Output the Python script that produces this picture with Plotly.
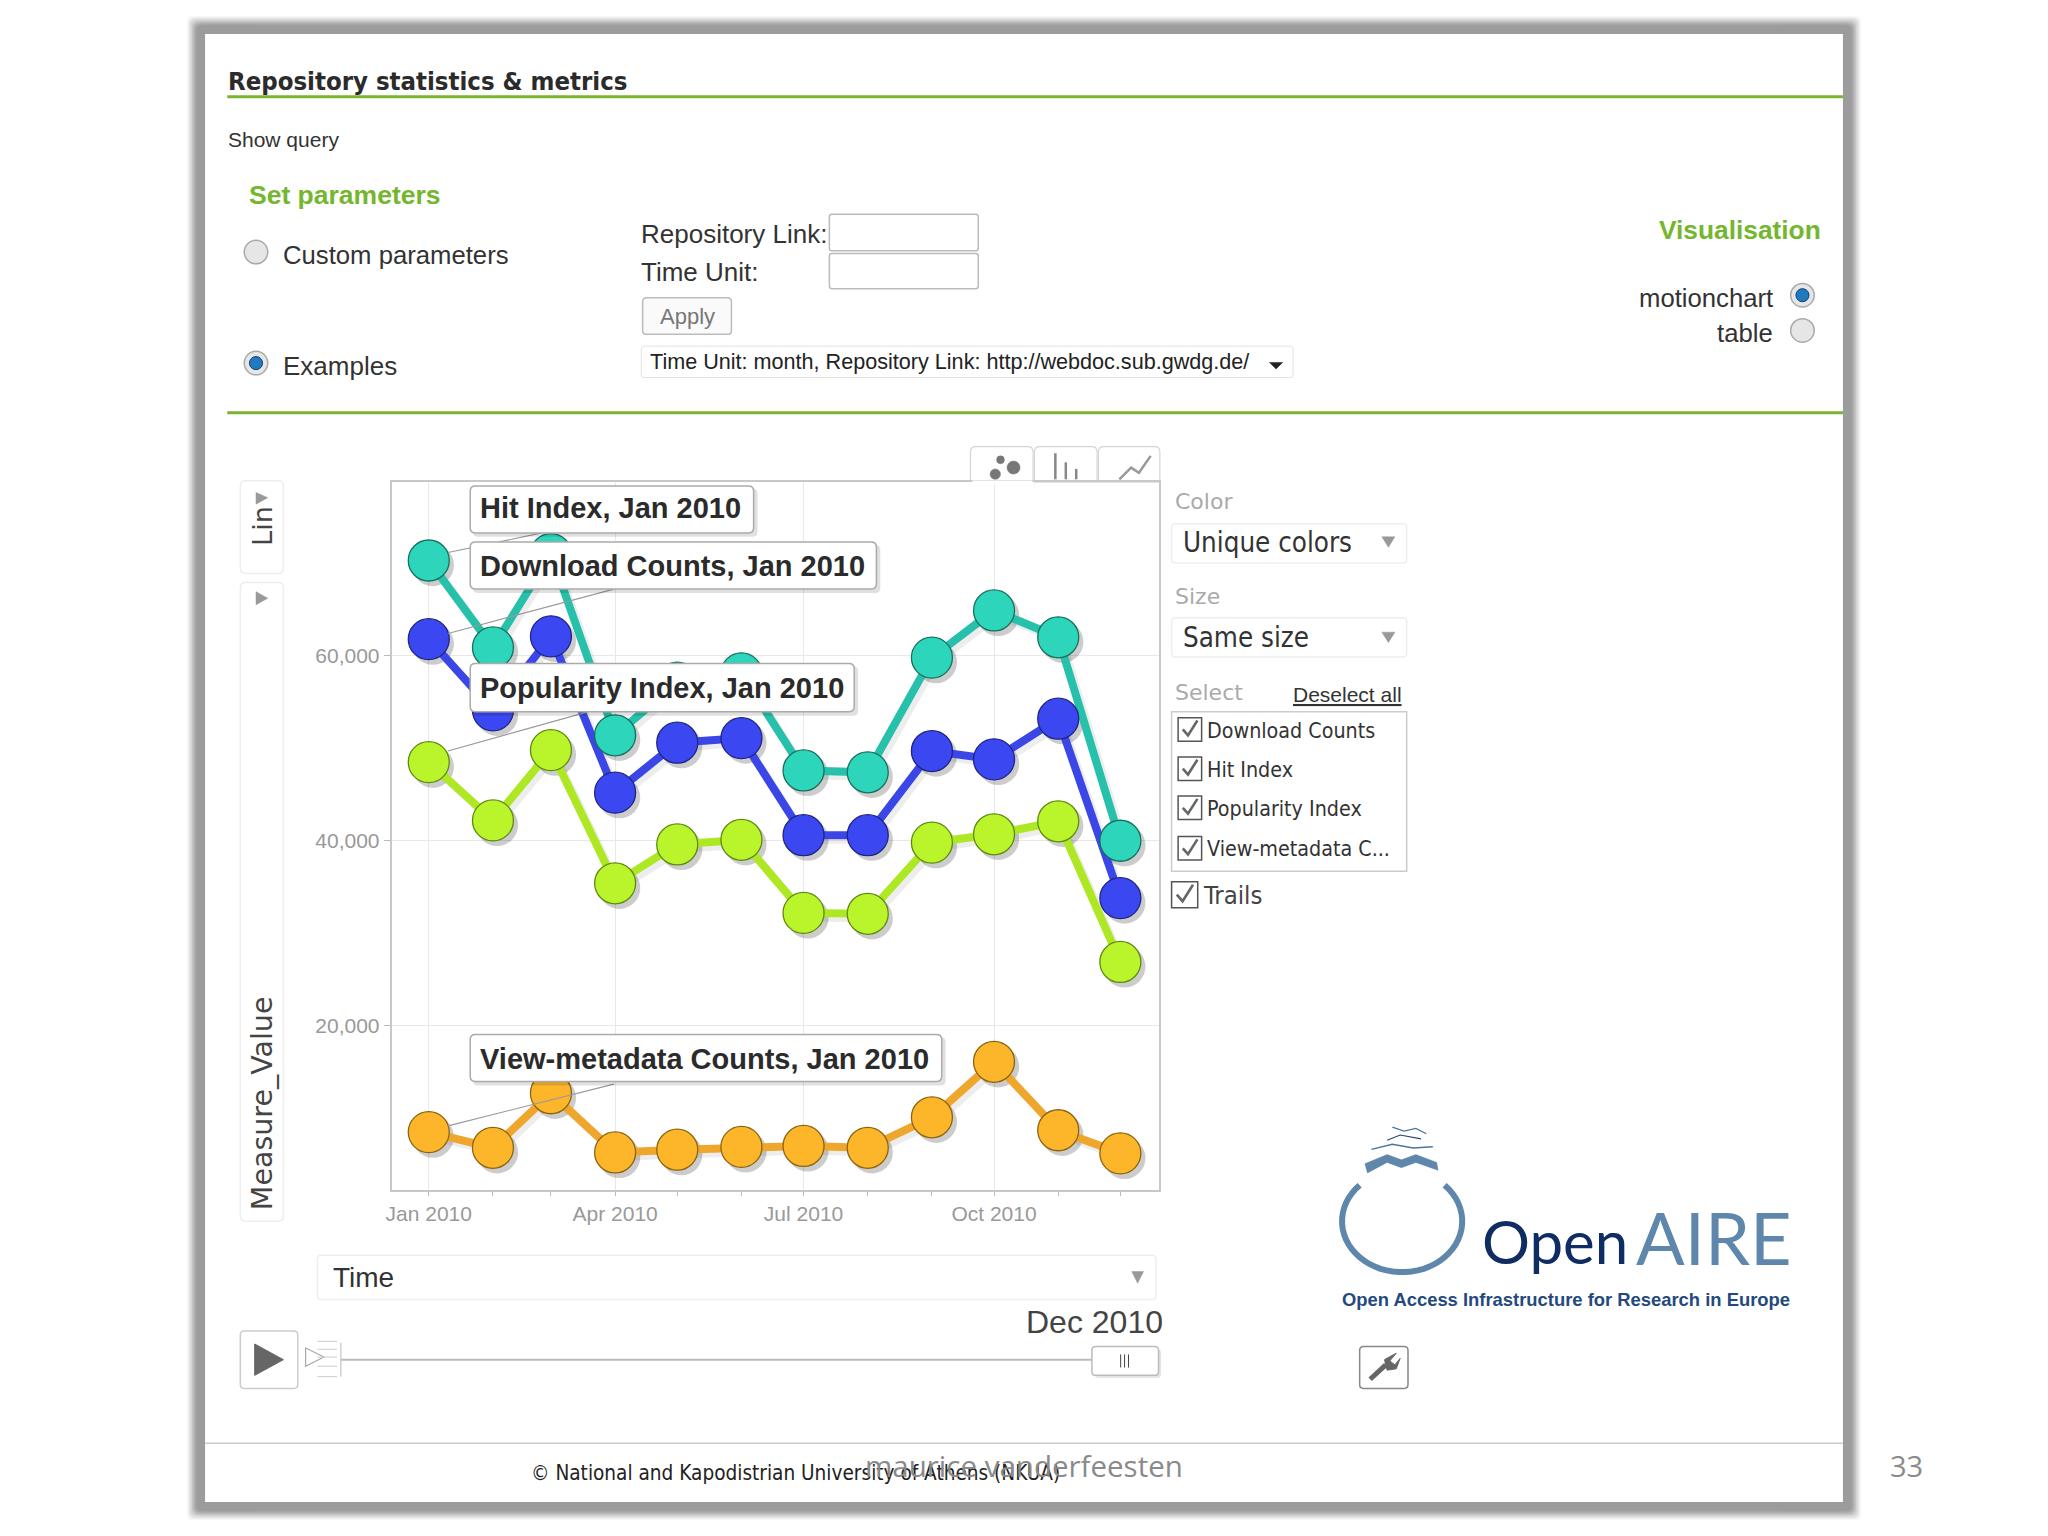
import math
import pandas as pd
import plotly.graph_objects as go

# ---------- data ----------
months = ["2010-01-01","2010-02-01","2010-03-01","2010-04-01","2010-05-01","2010-06-01",
          "2010-07-01","2010-08-01","2010-09-01","2010-10-01","2010-11-01","2010-12-01"]
hit_index = [70300,60900,71000,51400,57100,58100,47600,47400,59800,64900,62000,40000]
download_counts = [61800,54100,62100,45200,50600,51100,40600,40600,49700,48800,53200,33800]
popularity_index = [48500,42200,49800,35400,39600,40100,32200,32100,39800,40700,42100,26900]
view_metadata = [8500,6800,12700,6300,6600,6900,7000,6800,10100,16100,8700,6200]
y_ticks = [20000,40000,60000]

series = [("Hit Index",hit_index,"#27c0aa","#2dd6bb","#17705f"),
          ("Download Counts",download_counts,"#3b46e6","#3b48f2","#1f2580"),
          ("Popularity Index",popularity_index,"#aee824","#baf52c","#5f8a10"),
          ("View-metadata Counts",view_metadata,"#efa62c","#fdb62a","#8a6510")]

W, H = 2048, 1536
DW, DH = 1568.0, 1176.0     # all layout positions below are given on this grid
X_RANGE = (pd.Timestamp("2009-12-14"), pd.Timestamp("2010-12-19 16:00"))
Y_RANGE = (2240, 78810)
DOMX = (391.5/W, 1159/W)
DOMY = (1-1190/H, 1-481.8/H)
SHX, SHY = pd.Timedelta(days=2), 500

shapes, annos = [], []
fx = lambda x: x/DW
fy = lambda y: 1-y/DH

def path(pts, close=False, line="#888", width=1, fill=None, layer="below"):
    d = "M" + " L".join(f"{fx(x):.5f} {fy(y):.5f}" for x,y in pts) + (" Z" if close else "")
    s = dict(type="path", xref="paper", yref="paper", path=d, layer=layer,
             line=dict(color=line, width=width))
    if fill: s["fillcolor"] = fill
    shapes.append(s)

def rect(x0,y0,x1,y1,line="#ddd",width=1,fill=None,layer="below",r=0):
    if r:
        c = lambda x,y: f"{fx(x):.5f} {fy(y):.5f}"
        d = (f"M{c(x0+r,y0)} L{c(x1-r,y0)} Q{c(x1,y0)} {c(x1,y0+r)} L{c(x1,y1-r)} Q{c(x1,y1)} {c(x1-r,y1)} "
             f"L{c(x0+r,y1)} Q{c(x0,y1)} {c(x0,y1-r)} L{c(x0,y0+r)} Q{c(x0,y0)} {c(x0+r,y0)} Z")
        s = dict(type="path", xref="paper", yref="paper", path=d, layer=layer,
                 line=dict(color=line, width=width))
    else:
        s = dict(type="rect", xref="paper", yref="paper", x0=fx(x0), x1=fx(x1), y0=fy(y0), y1=fy(y1),
                 layer=layer, line=dict(color=line, width=width))
    if fill: s["fillcolor"] = fill
    shapes.append(s)

def ellipse(cx,cy,rx,ry,line="#888",width=1,fill=None,layer="below"):
    s = dict(type="circle", xref="paper", yref="paper", x0=fx(cx-rx), x1=fx(cx+rx), y0=fy(cy+ry), y1=fy(cy-ry),
             layer=layer, line=dict(color=line, width=width))
    if fill: s["fillcolor"] = fill
    shapes.append(s)

def text(t,x,y,size,color="#333",anchor="left",bold=False,font="Liberation Sans",angle=0):
    annos.append(dict(text=f"<b>{t}</b>" if bold else t, x=fx(x), y=fy(y), xref="paper", yref="paper",
                      xanchor=anchor, yanchor="middle", showarrow=False, textangle=angle,
                      font=dict(family=font,size=size,color=color), borderpad=0))

def tri_down(cx,cy,w=5,h=6,color="#999"):
    path([(cx-w,cy-h/2),(cx+w,cy-h/2),(cx,cy+h/2)],close=True,line=color,width=0.5,fill=color)

def radio(cx,cy,on=False):
    ellipse(cx,cy,9,9,line="#aaa",width=1.5,fill="#e6e6e6")
    if on: ellipse(cx,cy,5,5,line="#123f7a",width=1,fill="#1f7ac0")

def check(x,y,s=18):
    rect(x,y,x+s,y+s,line="#555",width=1.5,fill="#fff")
    path([(x+s*.2,y+s*.5),(x+s*.42,y+s*.75),(x+s*.82,y+s*.12)],line="#666",width=2.6)

# ---------- slide frame: soft grey glow around the white page ----------
for i,(o,a) in enumerate(((14,0.07),(13,0.10),(12,0.13),(11,0.18),(10,0.24),(9,0.32),(8,0.42),(7,0.55))):
    rect(157-o,26-o,1411+o,1150+o,line="rgba(0,0,0,0)",fill=f"rgba(150,150,150,{a})",r=5)
rect(157-6,26-6,1411+6,1150+6,line="rgba(0,0,0,0)",fill="#9c9c9c",r=2)
rect(157,26,1411,1150,line="rgba(0,0,0,0)",fill="#ffffff")

# ---------- header ----------
text("Repository statistics &amp; metrics",174,62,25.5,"#2b2b2b",bold=True,font="DejaVu Sans Condensed")
path([(174,74),(1411,74)],line="#7ab32e",width=3)
text("Show query",174,107,21,"#333")
text("Set parameters",190,149,26.5,"#74b62e",bold=True)
radio(196,193); text("Custom parameters",216,195,25.7,"#333")
radio(196,278,True); text("Examples",216,280,26,"#333")
text("Repository Link:",490,179,26,"#333")
text("Time Unit:",490,208,26,"#333")
rect(635,164,749,192,line="#bbb",width=1.5,fill="#fff",r=2)
rect(635,194,749,221,line="#bbb",width=1.5,fill="#fff",r=2)
rect(492,228,560,256,line="#bbb",width=1.5,fill="#fafafa",r=3)
text("Apply",526,242,22,"#777",anchor="center")
rect(491,265,990,289,line="#e2e2e2",width=1,fill="#fff",r=2)
text("Time Unit: month, Repository Link: http://webdoc.sub.gwdg.de/",497,277,21.6,"#222")
tri_down(977,280,5,5,"#222")
text("Visualisation",1395,176,26.3,"#74b62e",anchor="right",bold=True)
text("motionchart",1358,228,25.7,"#333",anchor="right"); radio(1380,226,True)
text("table",1358,255,25.7,"#333",anchor="right"); radio(1380,253)
path([(174,316),(1411,316)],line="#7ab32e",width=3)

# ---------- chart furniture ----------
for a,b in ((743,791),(792,840),(841,888)):
    rect(a,342,b,375,line="#d5d5d5",width=1.2,fill="#fff",r=4)
rect(792,369,890,380,line="rgba(0,0,0,0)",fill="#fff")
rect(740,369,792,380,line="rgba(0,0,0,0)",fill="#fff")
path([(792,369),(888,369)],line="#c8c8c8",width=1.2)
path([(744.5,369),(790.5,369)],line="#fff",width=3,layer="above")
for cx,cy,r in ((762,363,4),(766,352,3),(776,358,5)):
    ellipse(cx,cy,r,r,line="#777",width=0.5,fill="#777")
for a,b,c in ((808,347,367),(816,354,367),(824,359,367)):
    path([(a,b),(a,c)],line="#888",width=2.5)
path([(857,367),(866,358),(872,362),(881,349)],line="#999",width=2.5)
rect(184,368,217,439,line="#eeeeee",width=1.5,fill="#fff",r=4)
path([(196,377),(205,381),(196,386)],close=True,line="#999",width=0.5,fill="#999")
text("Lin",201,403,27,"#444",anchor="center",angle=-90,font="DejaVu Sans")
rect(184,446,217,935,line="#eeeeee",width=1.5,fill="#fff",r=4)
path([(196,453),(205,458),(196,463)],close=True,line="#999",width=0.5,fill="#999")
text("Measure_Value",201,845,28.5,"#444",anchor="center",angle=-90,font="DejaVu Sans")

# ---------- right controls ----------
text("Color",899,384,22,"#aaa",font="DejaVu Sans")
rect(897,401,1077,431,line="#eeeeee",width=1.5,fill="#fff",r=3)
text("Unique colors",905,415,27.5,"#333",font="DejaVu Sans Condensed"); tri_down(1063,415,5,8,"#999")
text("Size",899,457,22,"#aaa",font="DejaVu Sans")
rect(897,473,1077,503,line="#eeeeee",width=1.5,fill="#fff",r=3)
text("Same size",905,488,27.5,"#333",font="DejaVu Sans Condensed"); tri_down(1063,488,5,8,"#999")
text("Select",899,530,22,"#aaa",font="DejaVu Sans")
text("<u>Deselect all</u>",1074,532,21,"#333",anchor="right")
rect(897,545,1077,667,line="#ccc",width=1.5,fill="#fff")
names = ["Download Counts","Hit Index","Popularity Index","View-metadata C..."]
for n,yy in zip(names,(559,589,619,650)):
    check(902,yy-9.5); text(n,923,yy,21.3,"#333",font="DejaVu Sans Condensed")
check(897,675,20); text("Trails",920,685,25.5,"#444",font="DejaVu Sans Condensed")

# ---------- logo ----------
arc = [(1073.5+46*math.cos(math.radians(a)),935+39*math.sin(math.radians(a))) for a in range(-45,226,6)]
path(arc,line="#5f87ab",width=6)
path([(1045,891),(1062,884),(1073,888),(1084,884),(1100,890),(1101,896),(1084,890),(1073,894),(1062,890),(1047,898)],
     close=True,line="#5f87ab",width=0.5,fill="#5f87ab")
path([(1050,880),(1066,876),(1082,879),(1097,878)],line="#4c759b",width=1.5)
path([(1066,863),(1075,866),(1084,864),(1092,868)],line="#4c759b",width=1.3)
path([(1062,873),(1072,869),(1088,872)],line="#24496f",width=1.2)
text("Open",1134,950,60,"#0f2d63",font="Lato")
text("AIRE",1252,947,72,"#5f87ab",font="Lato")
text("Open Access Infrastructure for Research in Europe",1027,995,18.4,"#24497d",bold=True)
rect(1041,1031,1078,1063,line="#888",width=1.5,fill="#fff",r=3)
path([(1049,1056),(1061,1045)],line="#666",width=5)
path([(1060,1041),(1069,1036),(1064,1042),(1068,1045),(1072,1040),(1069,1048),(1062,1049)],close=True,line="#666",width=1,fill="#666")

# ---------- time controls ----------
rect(243,961,885,995,line="#eeeeee",width=1.5,fill="#fff",r=3)
text("Time",254,978,28,"#333"); tri_down(871,978,4.5,9,"#999")
text("Dec 2010",891,1012,32,"#444",anchor="right")
rect(184,1019,228,1063,line="#ccc",width=1.5,fill="#fff",r=3)
path([(195,1029),(217,1041),(195,1053)],close=True,line="#666",width=1,fill="#666")
path([(234,1032),(248,1039),(234,1046)],close=True,line="#aaa",width=1.2)
for yy in (1027,1033,1039,1046,1054):
    path([(243,yy),(258,yy)],line="#ccc",width=1)
path([(261,1028),(261,1054)],line="#bbb",width=1)
path([(261,1041),(836,1041)],line="#bbb",width=2)
rect(838,1033,889,1055,line="rgba(0,0,0,0)",fill="rgba(0,0,0,0.10)",r=3)
rect(836,1031,887,1053,line="#bbb",width=1.5,fill="#fff",r=3)
for xx in (858,861,864):
    path([(xx,1037),(xx,1047)],line="#444",width=1)

# ---------- footer ----------
path([(157,1105),(1411,1105)],line="#ccc",width=1.5)
text("© National and Kapodistrian University of Athens (NKUA)",406,1128,20.6,"#222",font="DejaVu Sans Condensed")
text("maurice vanderfeesten",784,1122,29.5,"#8a8a8a",anchor="center",font="Open Sans")
text("33",1460,1122,29,"#8a8a8a",anchor="center",font="Open Sans")

# ---------- callouts ----------
callouts = [("Hit Index, Jan 2010",372,408,577,389,(343,423),(415,408)),
            ("Download Counts, Jan 2010",415,451,671,433,(343,485),(470,451)),
            ("Popularity Index, Jan 2010",508,545,654,527,(343,575),(450,545)),
            ("View-metadata Counts, Jan 2010",792,828,721,811,(343,862),(470,830))]
for label,t,b,r,ty,p0,p1 in callouts:
    path([p0,p1],line="#999",width=1.2,layer="above")
    rect(362,t+2,r+3,b+3,line="rgba(0,0,0,0)",fill="rgba(0,0,0,0.12)",layer="above",r=4)
    rect(360,t,r,b,line="#aaa",width=1.5,fill="#fff",layer="above",r=4)
    text(label,367,ty,29,"#2b2b2b",bold=True)

# ---------- traces ----------
fig = go.Figure()
for name,vals,lc,mc,bc in series:
    fig.add_trace(go.Scatter(x=months,y=vals,mode="lines+markers",xaxis="x",yaxis="y",hoverinfo="skip",
        line=dict(color="rgba(0,0,0,0.07)",width=8),
        marker=dict(size=42,color="rgba(0,0,0,0.20)",line=dict(width=0)),showlegend=False))
for name,vals,lc,mc,bc in series:
    fig.add_trace(go.Scatter(x=months,y=vals,mode="lines",xaxis="x2",yaxis="y2",name=name,
        line=dict(color=lc,width=8),showlegend=False))
for name,vals,lc,mc,bc in series:
    fig.add_trace(go.Scatter(x=months,y=vals,mode="markers",xaxis="x2",yaxis="y2",name=name,
        marker=dict(size=41,color=mc,line=dict(color=bc,width=1.3)),showlegend=False))

fig.update_layout(
    width=W,height=H,margin=dict(l=0,r=0,t=0,b=0,autoexpand=False),paper_bgcolor="#fff",plot_bgcolor="rgba(0,0,0,0)",
    showlegend=False,shapes=shapes,annotations=annos,
    xaxis=dict(domain=DOMX,range=[X_RANGE[0]-SHX,X_RANGE[1]-SHX],type="date",visible=False),
    yaxis=dict(domain=DOMY,range=[Y_RANGE[0]+SHY,Y_RANGE[1]+SHY],visible=False),
    xaxis2=dict(domain=DOMX,overlaying="x",anchor="y2",range=list(X_RANGE),type="date",
                dtick="M3",tick0="2010-01-01",tickformat="%b %Y",ticks="outside",ticklen=4,tickcolor="#bbb",
                minor=dict(dtick="M1",ticks="outside",ticklen=4,tickcolor="#bbb",showgrid=False),
                showgrid=True,gridcolor="#e8e8e8",gridwidth=1,zeroline=False,
                showline=True,linecolor="#c8c8c8",linewidth=1.5,mirror=True,
                tickfont=dict(family="Liberation Sans",size=21,color="#999")),
    yaxis2=dict(domain=DOMY,overlaying="y",anchor="x2",side="left",range=list(Y_RANGE),
                tickmode="array",tickvals=y_ticks,tickformat=",",ticks="outside",ticklen=6,tickcolor="#bbb",
                showgrid=True,gridcolor="#e8e8e8",gridwidth=1,zeroline=False,
                showline=True,linecolor="#c8c8c8",linewidth=1.5,mirror=True,
                tickfont=dict(family="Liberation Sans",size=21,color="#999")),
)
fig.write_html("out.html",config=dict(displayModeBar=False),
               post_script="document.body.style.margin='0';document.body.style.overflow='hidden';")
